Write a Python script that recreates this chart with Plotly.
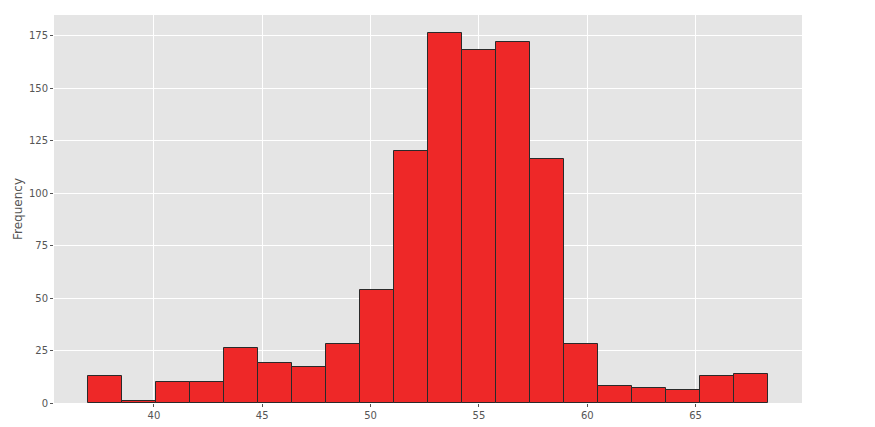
import plotly.graph_objects as go
import numpy as np

# histogram counts per bin
counts = [13, 1, 10, 10, 26, 19, 17, 28, 54, 120, 176, 168, 172, 116, 28, 8, 7, 6, 13, 14]
bin_min = 36.96
bin_max = 68.34

edges = np.linspace(bin_min, bin_max, len(counts) + 1)
centers = (edges[:-1] + edges[1:]) / 2
width = edges[1] - edges[0]

fig = go.Figure(go.Bar(
    x=centers,
    y=counts,
    width=width,
    marker=dict(color='#EE2828', line=dict(color='#2A2A2A', width=1)),
    showlegend=False,
))

pad = (bin_max - bin_min) * 0.05
axis_style = dict(
    showgrid=True,
    gridcolor='white',
    gridwidth=1,
    zeroline=False,
    ticks='outside',
    ticklen=3,
    tickcolor='#555555',
    tickfont=dict(family='DejaVu Sans', size=10, color='#555555'),
    showline=False,
    automargin=False,
)

# the page body adds an 8px margin, so the figure is a bit smaller
fig.update_layout(
    width=867,
    height=419,
    margin=dict(l=46, r=73, t=7, b=24),
    paper_bgcolor='white',
    plot_bgcolor='#E5E5E5',
    bargap=0,
    xaxis=dict(range=[bin_min - pad, bin_max + pad], tickvals=[40, 45, 50, 55, 60, 65], **axis_style),
    yaxis=dict(range=[0, max(counts) * 1.05], tickvals=[0, 25, 50, 75, 100, 125, 150, 175],
               title=dict(text='Frequency', font=dict(family='DejaVu Sans', size=12, color='#555555'), standoff=3),
               **axis_style),
)

fig.write_html("out.html")
